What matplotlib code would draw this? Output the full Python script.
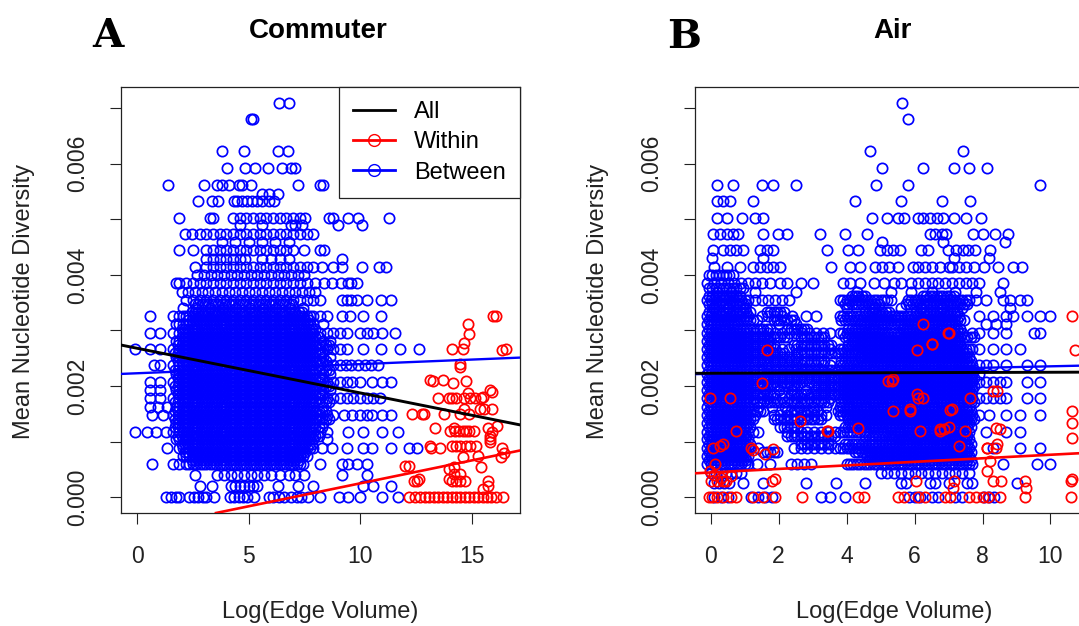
import matplotlib
matplotlib.use("Agg")
import matplotlib.pyplot as plt
from matplotlib import font_manager
from matplotlib.lines import Line2D

# ---------------------------------------------------------------
# Data.  For the "between" series every entry of
# *_between_x holds the x values that share the y value with the same
# index in *_between_y (the diversity values come in discrete steps).
# The solid core of each cloud is written once as a list of x values;
# each fill row keeps the part of it that lies inside the extents read
# for that row.
# ---------------------------------------------------------------

# Panel A: Commuter
commuter_core_x = [1.9, 2.05, 2.2, 2.35, 2.5, 2.65, 2.8, 2.95, 3.1, 3.25, 3.4, 3.55, 3.7, 3.85, 4.0, 4.15,
                   4.3, 4.45, 4.6, 4.75, 4.9, 5.05, 5.2, 5.35, 5.5, 5.65, 5.8, 5.95, 6.1, 6.25, 6.4, 6.55,
                   6.7, 6.85, 7.0, 7.15, 7.3, 7.45, 7.6, 7.75, 7.9]
commuter_fill_x = [1.7, 1.85, 2.0, 2.15, 2.3, 2.45, 2.6, 2.75, 2.9, 3.05, 3.2, 3.35, 3.5, 3.65, 3.8, 3.95,
                   4.1, 4.25, 4.4, 4.55, 4.7, 4.85, 5.0, 5.15, 5.3, 5.45, 5.6, 5.75, 5.9, 6.05, 6.2, 6.35,
                   6.5, 6.65, 6.8, 6.95, 7.1, 7.25, 7.4, 7.55, 7.7, 7.85, 8.0, 8.15, 8.3, 8.45, 8.6]
commuter_fill_y = [0.000665, 0.000815, 0.000965, 0.00111, 0.001255, 0.001405, 0.001555, 0.001705,
                   0.00185, 0.001995, 0.002145, 0.002295, 0.002445, 0.00259, 0.002735, 0.002885,
                   0.003035, 0.003185, 0.00333, 0.003475]
commuter_fill_lo = [2.4, 2.1, 1.9, 1.8, 1.7, 1.7, 1.7, 1.7, 1.8, 1.7, 1.8, 1.7, 1.8, 1.7, 1.8, 1.9,
                    2.0, 2.2, 2.4, 2.6]
commuter_fill_hi = [7.3, 7.6, 7.9, 8.2, 8.4, 8.6, 8.5, 8.6, 8.3, 8.6, 8.4, 8.6, 8.5, 8.3, 8.6, 8.2,
                    8.0, 7.7, 7.4, 7.0]
commuter_between_y = [
    0.0, 0.0002, 0.0004, 0.00059, 0.00074, 0.00089, 0.00104, 0.00118,
    0.00133, 0.00148, 0.00163, 0.00178, 0.00192, 0.00207, 0.00222, 0.00237,
    0.00252, 0.00266, 0.00281, 0.00296, 0.00311, 0.00326, 0.0034, 0.00355,
    0.0037, 0.00385, 0.004, 0.00414, 0.00429, 0.00444, 0.00459, 0.00474, 0.0049, 0.00503,
    0.00533, 0.00545, 0.00562, 0.00592, 0.00622, 0.00681, 0.0071,
]
commuter_between_x = [
    [1.3, 1.5, 1.75, 1.9, 2.35, 2.55, 2.75, 2.95, 3.1, 3.45, 4.15, 4.35, 4.55, 4.75, 4.95, 5.25, 5.9, 6.1,
     6.35, 6.6, 6.9, 7.15, 7.35, 7.65, 8.2, 9.05, 9.45, 10.0, 11.0, 11.7],
    [2.8, 3.35, 4.2, 4.4, 4.6, 4.8, 5.0, 5.2, 5.4, 6.3, 7.2, 7.9, 10.15, 10.6, 11.4],
    [2.6, 3.6, 3.9, 4.2, 4.5, 4.8, 5.1, 5.4, 5.7, 6.0, 6.4, 6.8, 7.1, 7.5, 9.2, 10.3],
    commuter_core_x[2:-3] + [0.65, 1.6, 1.9, 8.2, 9.2, 9.45, 9.85, 10.3],
    commuter_core_x[1:-2],
    commuter_core_x + [1.35, 8.3, 8.75, 9.4, 10.15, 10.55, 11.4, 12.2, 12.55],
    commuter_core_x + [1.75, 8.5],
    commuter_core_x + [-0.1, 0.45, 0.85, 1.3, 1.6, 8.2, 8.5, 9.45, 10.15, 11.0, 11.7],
    commuter_core_x + [1.75, 8.35],
    commuter_core_x + [0.65, 1.15, 1.6, 8.2, 8.5, 8.8, 9.3, 9.65, 10.0, 10.3, 10.55, 11.0, 11.4],
    commuter_core_x + [0.6, 0.95, 1.35, 1.75, 8.35],
    commuter_core_x + [0.6, 1.05, 1.6, 8.2, 8.5, 8.8, 9.1, 9.4, 9.7, 10.0, 10.3, 10.6, 10.9],
    commuter_core_x + [0.6, 1.05, 1.75, 8.35, 8.65],
    commuter_core_x + [0.6, 1.05, 1.6, 8.2, 8.5, 8.8, 9.1, 9.4, 9.65, 10.0, 10.55, 11.0, 11.4],
    commuter_core_x + [1.75, 8.35, 8.65],
    commuter_core_x + [0.75, 1.05, 1.6, 8.2, 8.5, 8.8, 9.1, 9.35, 9.6, 9.9, 10.2, 10.5, 10.8],
    commuter_core_x + [1.75, 8.35, 8.65],
    commuter_core_x + [-0.1, 0.6, 1.05, 1.6, 8.2, 8.5, 8.8, 9.1, 9.4, 10.15, 10.95, 11.8, 12.65],
    commuter_core_x + [1.75, 8.35, 8.65],
    commuter_core_x + [0.6, 1.05, 1.6, 8.2, 8.5, 8.8, 9.1, 9.4, 10.0, 10.3, 10.6, 11.0, 11.55],
    commuter_core_x + [1.75, 8.35],
    commuter_core_x + [0.6, 1.6, 8.2, 8.5, 9.2, 9.55, 10.15, 10.95],
    [2.05, 2.65, 3.25, 3.85, 4.45, 5.05, 5.65, 6.25, 6.85, 7.45],
    [2.2, 2.5, 2.8, 3.1, 3.4, 3.7, 4.0, 4.3, 4.6, 4.9, 5.2, 5.5, 5.8, 6.1, 6.4, 6.7, 7.0, 7.3, 7.6, 7.9,
     8.2, 9.2, 9.4, 9.6, 9.85, 10.3, 10.95, 11.4],
    [2.0, 2.3, 2.6, 2.9, 3.2, 3.5, 3.8, 4.1, 4.4, 4.7, 5.0, 5.3, 5.6, 5.9, 6.2, 6.5, 6.8, 7.1, 7.4, 7.7,
     8.0],
    [1.75, 1.9, 2.2, 2.5, 2.8, 3.1, 3.4, 3.7, 4.0, 4.3, 4.6, 4.9, 5.2, 5.5, 5.8, 6.1, 6.4, 6.7, 7.0, 7.3,
     7.6, 8.0, 8.4, 8.75, 9.15, 9.45, 9.6, 9.85],
    [2.7, 3.0, 3.3, 3.6, 3.9, 4.2, 4.5, 4.8, 5.1, 5.4, 5.7, 6.0, 6.3, 6.6, 6.9, 7.2, 7.5],
    [2.6, 3.1, 3.4, 3.7, 4.0, 4.3, 4.6, 4.9, 5.2, 5.5, 5.8, 6.1, 6.4, 6.7, 7.0, 7.3, 7.6, 7.9, 8.3, 8.8,
     9.2, 10.1, 10.85, 11.15],
    [3.1, 3.4, 3.7, 4.0, 4.3, 4.6, 4.85, 5.6, 6.0, 6.4, 6.8, 9.2],
    [1.9, 2.5, 3.1, 3.4, 3.7, 4.0, 4.3, 4.6, 4.9, 5.2, 5.5, 5.8, 6.1, 6.4, 6.7, 7.0, 7.5, 8.2, 8.4],
    [3.8, 4.4, 5.0, 5.6, 6.2, 6.8],
    [2.15, 2.45, 2.8, 3.1, 3.4, 3.7, 4.0, 4.3, 4.6, 4.9, 5.2, 5.5, 5.8, 6.1, 6.4, 6.7, 7.0, 7.3, 7.6, 7.9],
    [4.6, 5.6, 6.9, 7.1, 7.4, 9.0, 10.1],
    [1.9, 3.25, 3.4, 4.3, 4.6, 4.9, 5.2, 5.5, 5.8, 6.1, 6.4, 6.7, 7.0, 7.3, 7.55, 8.6, 8.8, 9.45, 9.9, 11.3],
    [2.75, 3.35, 3.65, 4.35, 4.5, 4.7, 4.95, 5.15, 5.4, 5.6, 5.9, 6.15],
    [5.6, 5.9, 6.3],
    [1.4, 3.0, 3.6, 3.8, 4.1, 4.55, 4.7, 5.1, 7.2, 8.2, 8.35],
    [4.05, 4.85, 5.3, 5.85, 6.5, 6.9, 7.1],
    [3.8, 4.8, 6.3, 6.75],
    [5.1, 5.2],
    [6.35, 6.8],
]
commuter_within_x = [
    12.2, 12.45, 12.7, 12.9, 13.1, 13.3, 13.5, 13.7, 13.9, 14.1, 14.3, 14.5, 14.7, 14.9, 15.1, 15.3, 15.5,
    15.7, 15.85, 16.1, 16.4,
    15.96, 14.83, 14.87, 14.65, 14.13, 14.6, 16.37, 14.48, 14.48, 13.15, 13.27, 13.72, 14.17, 14.75, 14.83,
    15.13, 15.81, 13.49, 14.0, 14.13, 14.28, 14.65, 14.95, 15.4, 15.5, 15.9, 14.65, 15.38, 15.56, 15.93,
    12.33, 12.78, 12.88, 13.75, 14.5, 14.87, 13.38, 14.2, 14.05, 14.25, 14.45, 14.6, 14.75, 14.9, 15.1,
    15.75, 15.9, 16.13, 15.84, 15.84, 15.84, 13.15, 13.2, 13.6, 14.1, 14.3, 14.5, 14.75, 14.95, 15.2,
    16.37, 16.45, 15.3, 14.6, 16.3, 15.4, 14.2, 14.0, 12.0, 12.18, 12.4, 12.55, 12.64, 14.0, 14.1, 14.3,
    14.5, 14.7, 15.75, 15.75, 15.5, 14.2, 14.5, 16.53, 16.1,
]
commuter_within_y = [
    0.0, 0.0, 0.0, 0.0, 0.0, 0.0, 0.0, 0.0, 0.0, 0.0, 0.0, 0.0, 0.0, 0.0, 0.0, 0.0, 0.0,
    0.0, 0.0, 0.0, 0.0,
    0.00326, 0.00311, 0.00294, 0.00278, 0.00267, 0.00267, 0.00264, 0.00239, 0.00235, 0.0021, 0.00209,
    0.0021, 0.00206, 0.00209, 0.00187,
    0.00179, 0.00192, 0.00179, 0.00179, 0.00179, 0.00179, 0.00179, 0.00179, 0.00179, 0.0018, 0.0019,
    0.00158, 0.00158, 0.00158, 0.00158,
    0.00149, 0.00149, 0.00149, 0.00149, 0.00149, 0.00149, 0.00125, 0.00125, 0.00119, 0.00119, 0.00119,
    0.00119, 0.00119, 0.00119, 0.00119,
    0.00125, 0.00118, 0.00128, 0.00111, 0.00105, 0.00099, 0.00092, 0.00089, 0.00089, 0.00092, 0.00092,
    0.00092, 0.00092, 0.00092, 0.00092,
    0.00089, 0.0008, 0.00074, 0.00073, 0.00072, 0.00055, 0.00055, 0.0005, 0.00056, 0.00056, 0.00029,
    0.00029, 0.00032, 0.00032, 0.00029, 0.00029,
    0.00029, 0.00029, 0.0003, 0.0002, 0.00015, 0.00041, 0.00041, 0.00266, 0.00326,
]
# fitted lines (intercept, slope)
commuter_fit_all = (0.00268, -0.0000803)
commuter_fit_within = (-0.000576, 0.0000825)
commuter_fit_between = (0.00223, 0.0000164)

# Panel B: Air
air_left_x = [-0.1, 0.0, 0.1, 0.2, 0.3, 0.4, 0.5, 0.6, 0.7, 0.8, 0.9, 1.0, 1.1]
air_mid_x = [3.8, 3.9, 4.0, 4.1, 4.2, 4.3, 4.4, 4.5, 4.6, 4.7, 4.8, 4.9, 5.0, 5.1, 5.2, 5.3, 5.4, 5.5,
             5.6, 5.7, 5.8, 5.9, 6.0, 6.1, 6.2, 6.3, 6.4, 6.5, 6.6, 6.7, 6.8, 6.9, 7.0, 7.1, 7.2, 7.3,
             7.4, 7.5, 7.6]
air_gap_x = [1.3, 1.5, 1.7, 1.9, 2.1, 2.3, 2.5, 2.7, 2.9, 3.1, 3.3, 3.5]
air_fill_x = [-0.05, 0.05, 0.15, 0.25, 0.35, 0.45, 0.55, 0.65, 0.75, 0.85, 0.95, 1.05, 1.15, 1.25, 1.35,
              1.45, 1.55, 1.65, 1.75, 1.85, 1.95, 2.05, 2.15, 2.25, 2.35, 2.45, 2.55, 2.65, 2.75, 2.85,
              2.95, 3.05, 3.15, 3.25, 3.35, 3.45, 3.55, 3.65, 3.75, 3.85, 3.95, 4.05, 4.15, 4.25, 4.35,
              4.45, 4.55, 4.65, 4.75, 4.85, 4.95, 5.05, 5.15, 5.25, 5.35, 5.45, 5.55, 5.65, 5.75, 5.85,
              5.95, 6.05, 6.15, 6.25, 6.35, 6.45, 6.55, 6.65, 6.75, 6.85, 6.95, 7.05, 7.15, 7.25, 7.35,
              7.45, 7.55, 7.65, 7.75, 7.85]
air_fill_y = [0.000665, 0.000815, 0.000965, 0.00111, 0.001255, 0.001405, 0.001555, 0.001705,
              0.00185, 0.001995, 0.002145, 0.002295, 0.002445, 0.00259, 0.002735, 0.002885,
              0.003035, 0.003185, 0.00333, 0.003475, 0.00362, 0.00377, 0.004]
# solid stretches (from, to) along each fill row
air_fill_spans = [
    [(-0.05, 1.1), (4.6, 7.7)],
    [(-0.05, 1.1), (1.5, 2.0), (4.2, 7.7)],
    [(-0.05, 1.2), (2.6, 3.6), (3.9, 7.7)],
    [(-0.05, 1.1), (2.2, 3.7), (4.5, 7.6)],
    [(-0.05, 1.2), (2.0, 2.6), (3.9, 7.7)],
    [(-0.05, 1.3), (1.8, 3.3), (4.0, 7.8)],
    [(-0.05, 1.6), (2.2, 3.2), (3.7, 7.7)],
    [(-0.05, 3.5), (3.8, 7.8)],
    [(-0.05, 1.9), (2.3, 7.7)],
    [(-0.05, 2.6), (3.0, 7.8)],
    [(-0.05, 7.8)],
    [(-0.05, 7.8)],
    [(-0.05, 3.4), (3.8, 7.7)],
    [(-0.05, 2.2), (2.5, 7.6)],
    [(-0.05, 1.9), (2.4, 3.6), (4.0, 7.4)],
    [(-0.05, 2.3), (2.6, 3.4), (3.9, 7.8)],
    [(-0.05, 1.8), (2.2, 2.9), (4.0, 5.1), (5.6, 7.4)],
    [(-0.05, 1.4), (1.8, 2.5), (3.8, 7.5)],
    [(-0.05, 1.2), (1.6, 2.2), (4.5, 5.3), (6.0, 7.3)],
    [(-0.05, 1.1), (3.9, 5.0), (5.7, 7.6)],
    [(-0.05, 0.9), (4.1, 4.6), (6.2, 7.2)],
    [(-0.05, 1.0)],
    [(-0.05, 0.7)],
]
air_between_y = [
    0.0, 0.00026, 0.00043, 0.00059, 0.00074, 0.00089, 0.00104, 0.00118, 0.00133, 0.00148, 0.00163,
    0.00178, 0.00192, 0.00207, 0.00222, 0.00237, 0.00252, 0.00266, 0.00281, 0.00296, 0.00311, 0.00326,
    0.0034, 0.00355, 0.0037, 0.00385, 0.00414, 0.0043, 0.00444, 0.00459, 0.00474, 0.00503, 0.00533,
    0.00562, 0.00592, 0.00622, 0.00681, 0.0071,
]
air_between_x = [
    [0.1, 0.3, 0.5, 1.2, 1.4, 1.6, 1.8, 3.25, 3.5, 3.95, 5.85, 6.0, 6.15, 6.5, 6.7, 7.2, 7.4, 8.05, 8.2, 8.35],
    [0.1, 0.25, 0.4, 0.55, 0.95, 1.55, 2.8, 3.7, 4.55, 5.6, 5.75, 6.45, 6.6, 7.0, 7.55, 7.7, 9.0],
    [0.0, 0.15, 0.3, 0.45, 0.6, 0.75, 0.9, 5.0, 5.2, 5.4, 5.6, 5.8, 6.0, 6.2, 6.4, 6.6, 6.8, 7.0, 7.2,
     7.4, 7.6],
    air_left_x + [1.35, 1.75, 2.35, 2.55, 2.75, 2.95] + air_mid_x[2:] + [7.7, 8.6, 9.6, 10.0],
    air_left_x + air_mid_x[8:],
    air_left_x + [1.15, 1.4, 2.45, 2.65, 2.85, 3.05, 3.25, 3.45, 3.65] + air_mid_x + [8.3, 9.1, 9.7],
    air_left_x + air_mid_x[15:],
    air_left_x + [1.25, 1.4, 2.25, 2.45, 2.65, 2.85, 3.05, 3.25, 3.45, 3.65] + air_mid_x + [8.1, 8.7, 9.1],
    air_left_x + air_mid_x[3:],
    air_left_x + [1.3, 1.85, 2.05, 2.25, 2.45, 2.65, 2.85, 3.05, 3.25, 3.4] + air_mid_x
    + [7.7, 7.9, 8.2, 8.7, 9.1, 9.7],
    air_left_x + [1.4, 1.8, 2.2, 2.6, 3.0, 3.4] + air_mid_x,
    air_left_x + air_gap_x + air_mid_x + [7.7, 7.9, 8.1, 8.3, 8.5, 8.7, 9.3, 9.7],
    air_left_x + [1.3, 1.6, 2.0, 2.4, 2.8, 3.1, 3.3, 3.5] + air_mid_x + [7.7],
    air_left_x + air_gap_x + air_mid_x + [7.7, 7.9, 8.1, 8.3, 8.5, 8.7, 9.3, 9.7],
    air_left_x + air_gap_x + air_mid_x + [7.7, 7.9],
    air_left_x + air_gap_x + air_mid_x + [7.7, 7.9, 8.1, 8.3, 8.7, 9.3, 9.7],
    air_left_x + air_gap_x[:7] + air_mid_x[6:],
    air_left_x + air_gap_x + air_mid_x + [7.7, 7.9, 8.3, 8.7, 9.1],
    air_left_x + air_gap_x[:3] + air_mid_x[4:-3],
    air_left_x + air_gap_x + air_mid_x[:-2] + [7.7, 7.9, 8.3, 8.7, 9.5, 9.7],
    air_left_x[:-3] + [2.0, 2.5] + air_mid_x[6:-4] + [8.1, 8.4, 8.7],
    air_left_x + [1.5, 1.7, 1.9, 2.1, 2.4, 2.8, 3.1] + air_mid_x[:-3] + [7.9, 8.3, 8.7, 8.9, 9.3, 9.7, 10.0],
    [0.1, 0.5, 1.0, 4.0, 4.8, 5.6, 6.2, 6.8, 7.4, 8.8],
    air_left_x + [1.3, 1.5, 1.7, 1.9, 2.1, 2.3] + air_mid_x[:16] + air_mid_x[20:]
    + [7.8, 8.1, 8.6, 8.8, 9.1, 9.3],
    [0.2, 0.6, 1.3, 2.5, 4.3, 5.3, 5.9, 6.5, 7.2, 7.8, 8.5],
    [-0.1, 0.1, 0.3, 0.5, 0.7, 0.9, 1.1, 1.3, 1.5, 1.75, 2.05, 2.25, 2.65, 3.0, 3.9, 4.1, 4.4, 4.8, 5.1,
     5.4, 5.6, 5.9, 6.1, 6.3, 6.5, 6.7, 6.9, 7.1, 7.3, 7.5, 7.7, 7.9, 8.6],
    [0.1, 0.47, 0.86, 1.25, 1.45, 1.65, 1.84, 2.04, 3.55, 4.1, 4.4, 4.85, 5.05, 5.25, 5.5, 5.96, 6.1,
     6.3, 6.5, 6.75, 7.0, 7.1, 7.3, 7.5, 7.75, 8.05, 8.45, 8.9, 9.15],
    [0.03, 1.55, 7.15, 8.2],
    [0.08, 0.37, 0.57, 0.76, 0.96, 1.45, 1.65, 1.84, 3.41, 4.05, 4.35, 4.98, 5.18, 5.37, 5.57, 6.2, 6.4,
     6.98, 7.22, 7.43, 7.58, 7.78, 8.22],
    [5.03, 6.85, 8.67],
    [0.08, 0.27, 0.47, 0.67, 0.81, 1.55, 1.99, 2.24, 3.22, 3.95, 4.59, 6.46, 6.6, 6.8, 6.94, 7.73, 8.0,
     8.37, 8.76],
    [0.18, 0.47, 0.91, 1.3, 1.55, 4.74, 5.19, 5.5, 5.7, 6.1, 6.25, 6.45, 6.65, 6.84, 7.15, 7.5, 7.95],
    [0.18, 0.37, 0.57, 1.25, 4.25, 5.6, 6.8, 7.64],
    [0.18, 0.67, 1.5, 1.84, 2.5, 4.88, 5.82, 9.68],
    [5.03, 6.26, 7.15, 7.59, 8.12],
    [4.69, 7.42],
    [5.82],
    [5.63],
]
air_within_x = [
    -0.05, 0.05, 0.2, 0.35, 0.6, 0.75, 1.25, 1.55, 1.9, 2.7, 4.35, 4.5, 5.5, 5.7, 6.1, 6.3, 6.9, 7.05,
    7.6, 7.8, 8.0, 8.15, 8.5, 9.25, 10.6,
    0.0, 0.2, 0.35, 1.8, 6.05, 7.15, 8.3, 8.55, 9.25, 10.6,
    1.65, 1.5, 5.23, 5.37, 6.5, 6.99, 6.06, 6.25, 8.31, 7.63, 0.57, -0.02, 5.86, 5.37, 7.09, 6.06,
    8.41, 6.16, 6.75, 7.48, 3.41, 2.63, 0.76, 0.08, 0.37, 1.2, 1.6, 1.84, 8.12, 8.41, 8.22, 8.12,
    -0.02, 1.89, 7.14, 9.29, 10.62, 10.71, 10.62, 10.62, 10.62, 10.62, 7.0, 6.51, 5.33, 6.1, 6.26,
    8.42, 5.87, 7.05, 6.75, 6.88, 7.0, 8.52, 7.3, 8.13, 8.42, 3.46, 4.34, 0.27, 1.25, 0.13, 0.1, 0.3,
    0.45, 0.6,
]
air_within_y = [
    0.0, 0.0, 0.0, 0.0, 0.0, 0.0, 0.0, 0.0, 0.0, 0.0, 0.0, 0.0, 0.0, 0.0, 0.0, 0.0, 0.0, 0.0,
    0.0, 0.0, 0.0, 0.0, 0.0, 0.0, 0.0,
    0.0003, 0.0003, 0.0003, 0.0003, 0.0003, 0.0003, 0.0003, 0.0003, 0.0003, 0.0003,
    0.00265, 0.00206, 0.00209, 0.00212, 0.00275, 0.00295, 0.00265, 0.00311, 0.00191, 0.00179, 0.00179,
    0.00179, 0.00155, 0.00155, 0.00158, 0.00185,
    0.00125, 0.00119, 0.00119, 0.00119, 0.00119, 0.00137, 0.00119, 0.00089, 0.00095, 0.00089, 0.00077,
    0.00086, 0.00089, 0.00089, 0.00065, 0.00047,
    0.00047, 0.00032, 0.00017, 0.00017, 0.00326, 0.00265, 0.00155, 0.00134, 0.00107, 0.00032, 0.00296,
    0.00276, 0.00209, 0.00179, 0.00179,
    0.00191, 0.00159, 0.00157, 0.00123, 0.00123, 0.00126, 0.00123, 0.00092, 0.00089, 0.00095, 0.00119,
    0.00125, 0.00092, 0.00085, 0.00059, 0.0004, 0.00035,
    0.0003, 0.00038,
]
air_fit_all = (0.00223, 0.0000018)
air_fit_within = (0.000445, 0.0000319)
air_fit_between = (0.00222, 0.0000135)

# ---------------------------------------------------------------
names = {f.name for f in font_manager.fontManager.ttflist}
if "Liberation Sans Narrow" in names:
    sans, fs = "Liberation Sans Narrow", 19
else:
    sans, fs = "Liberation Sans", 16.5
plt.rcParams["font.family"] = [sans, "DejaVu Sans"]

BLUE = "#0000FF"
RED = "#FF0000"
INK = "#222222"
W, H = 1079, 626

fig = plt.figure(figsize=(W / 100, H / 100), dpi=100)
ax_a = fig.add_axes([121 / W, 113 / H, 399 / W, 426 / H])
ax_b = fig.add_axes([695 / W, 113 / H, 399 / W, 426 / H])


def flatten(rows_y, rows_x):
    xs, ys = [], []
    for y, row in zip(rows_y, rows_x):
        xs += row
        ys += [y] * len(row)
    return xs, ys


def within_spans(values, spans):
    return [v for v in values if any(lo <= v <= hi for lo, hi in spans)]


def draw_panel(ax, between_y, between_x, fill_y, fill_rows, within_x, within_y, fits, xlim, xticks):
    bx, by = flatten(between_y + fill_y, between_x + fill_rows)
    style = dict(ls="none", marker="o", mfc="none", ms=7.4, mew=1.25, zorder=2)
    ax.plot(bx, by, mec=BLUE, **style)
    ax.plot(within_x, within_y, mec=RED, **style)

    fit_all, fit_within, fit_between = fits
    ax.axline((0, fit_between[0]), slope=fit_between[1], color=BLUE, lw=1.7, zorder=3)
    ax.axline((0, fit_within[0]), slope=fit_within[1], color=RED, lw=1.9, zorder=3)
    ax.axline((0, fit_all[0]), slope=fit_all[1], color="black", lw=2.1, zorder=4)

    ax.set_xlim(*xlim)
    ax.set_ylim(-0.000284, 0.00738)
    ax.set_xticks(xticks)
    ax.set_xticklabels([str(t) for t in xticks], fontsize=fs)
    yt = [0.0, 0.001, 0.002, 0.003, 0.004, 0.005, 0.006, 0.007]
    ax.set_yticks(yt)
    ax.set_yticklabels([f"{t:.3f}" if i % 2 == 0 else "" for i, t in enumerate(yt)],
                       rotation=90, va="center", fontsize=fs)
    ax.tick_params(direction="out", length=8, width=0.8, colors=INK)
    ax.tick_params(axis="x", pad=15)
    ax.tick_params(axis="y", pad=15)
    for sp in ax.spines.values():
        sp.set_linewidth(0.9)
        sp.set_color(INK)


commuter_fill_rows = [within_spans(commuter_fill_x, [(lo, hi)])
                      for lo, hi in zip(commuter_fill_lo, commuter_fill_hi)]
air_fill_rows = [within_spans(air_fill_x, spans) for spans in air_fill_spans]

draw_panel(ax_a, commuter_between_y, commuter_between_x, commuter_fill_y, commuter_fill_rows,
           commuter_within_x, commuter_within_y,
           (commuter_fit_all, commuter_fit_within, commuter_fit_between),
           (-0.72, 17.17), [0, 5, 10, 15])
draw_panel(ax_b, air_between_y, air_between_x, air_fill_y, air_fill_rows,
           air_within_x, air_within_y,
           (air_fit_all, air_fit_within, air_fit_between),
           (-0.46, 11.28), [0, 2, 4, 6, 8, 10])

handles = [
    Line2D([], [], color="black", lw=2),
    Line2D([], [], color=RED, lw=2, marker="o", mfc="none", ms=8.5, mew=1),
    Line2D([], [], color=BLUE, lw=2, marker="o", mfc="none", ms=8.5, mew=1),
]
leg = ax_a.legend(handles, ["All", "Within", "Between"], loc="upper right", bbox_to_anchor=(1, 1),
                  borderaxespad=0, fancybox=False, edgecolor=INK, framealpha=1,
                  handlelength=1.8, handletextpad=0.8, labelspacing=0.35, borderpad=0.6,
                  prop={"family": [sans, "DejaVu Sans"], "size": fs + 0.5})
leg.get_frame().set_linewidth(0.9)
leg.set_zorder(10)

# titles, panel letters and axis labels
fig.text(318 / W, 1 - 31 / H, "Commuter", ha="center", va="center", fontsize=20,
         fontweight="bold", family=["Liberation Sans", "DejaVu Sans"])
fig.text(893 / W, 1 - 31 / H, "Air", ha="center", va="center", fontsize=20,
         fontweight="bold", family=["Liberation Sans", "DejaVu Sans"])
fig.text(108 / W, 1 - 36 / H, "A", ha="center", va="center", fontsize=29, fontweight="bold",
         family=["DejaVu Serif"])
fig.text(684 / W, 1 - 37 / H, "B", ha="center", va="center", fontsize=29, fontweight="bold",
         family=["DejaVu Serif"])
for xc in (24, 598):
    fig.text(xc / W, 1 - 301 / H, "Mean Nucleotide Diversity", rotation=90, ha="center",
             va="center", fontsize=fs + 0.5, color=INK)
for xc in (320, 894):
    fig.text(xc / W, 1 - 612 / H, "Log(Edge Volume)", ha="center", va="center", fontsize=fs + 0.5,
             color=INK)

fig.savefig("out.png", dpi=100)
